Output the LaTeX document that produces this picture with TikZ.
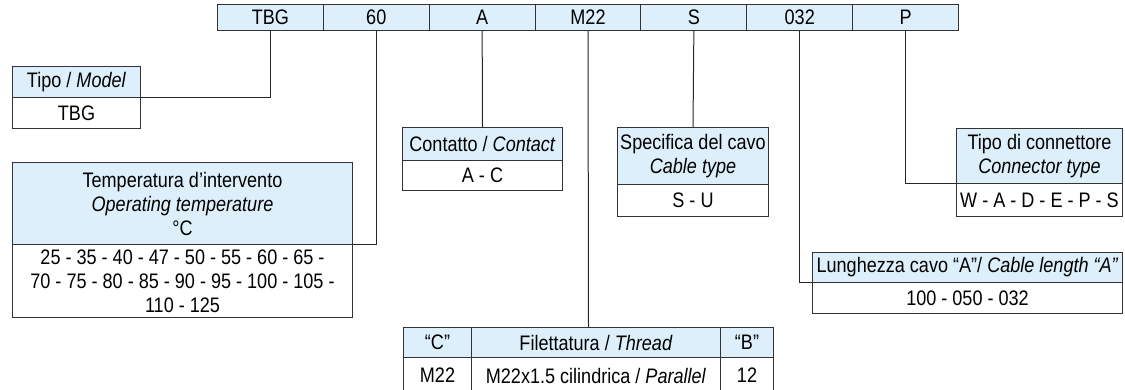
\documentclass[tikz,border=0pt]{standalone}
\usepackage{fontspec}
\setmainfont{Liberation Sans}[FakeStretch=0.86]
\usetikzlibrary{calc}
\definecolor{hdrfill}{HTML}{DDEFFA}
\definecolor{bordercol}{HTML}{333333}
\tikzset{
  cellbox/.style={draw=bordercol, line width=1pt, inner sep=0pt, align=center, anchor=north west, font=\fontsize{21}{24}\selectfont},
  hdr/.style={cellbox, fill=hdrfill},
  bdy/.style={cellbox, fill=white},
  conn/.style={draw=black!85, line width=1pt},
}
\begin{document}
\begin{tikzpicture}[x=1pt,y=-1pt]
\useasboundingbox (0,0) rectangle (1125,389);
% top code bar
\foreach \t [count=\i from 0] in {TBG,60,A,M22,S,032,P}{
  \node[hdr, minimum width=105.86pt, minimum height=26pt] (c\i) at ({217+\i*105.86},4) {\t};
}
% Tipo / Model
\node[hdr, minimum width=128pt, minimum height=31pt] (tipoH) at (12,66) {Tipo / \textit{Model}};
\node[bdy, minimum width=128pt, minimum height=31pt] (tipoB) at (12,97) {TBG};
% Temperatura
\node[hdr, minimum width=340pt, minimum height=82pt] (tempH) at (12,162) {Temperatura d’intervento\\\textit{Operating temperature}\\°C};
\node[bdy, minimum width=340pt, minimum height=73pt] (tempB) at (12,244) {25 - 35 - 40 - 47 - 50 - 55 - 60 - 65 -\\70 - 75 - 80 - 85 - 90 - 95 - 100 - 105 -\\110 - 125};
% Contatto
\node[hdr, minimum width=160pt, minimum height=33pt] (contH) at (402,127) {Contatto / \textit{Contact}};
\node[bdy, minimum width=160pt, minimum height=30pt] (contB) at (402,160) {A - C};
% Specifica
\node[hdr, minimum width=151pt, minimum height=57pt] (specH) at (617,127) {Specifica del cavo\\\textit{Cable type}};
\node[bdy, minimum width=151pt, minimum height=32pt] (specB) at (617,184) {S - U};
% Connettore
\node[hdr, minimum width=166pt, minimum height=55pt] (connH) at (956,128) {Tipo di connettore\\\textit{Connector type}};
\node[bdy, minimum width=166pt, minimum height=33pt] (connB) at (956,183) {W - A - D - E - P - S};
% Lunghezza
\node[hdr, minimum width=310pt, minimum height=30pt] (lungH) at (812,252) {Lunghezza cavo “A”/ \textit{Cable length “A”}};
\node[bdy, minimum width=310pt, minimum height=31pt] (lungB) at (812,282) {100 - 050 - 032};
% Thread table
\node[hdr, minimum width=68pt, minimum height=30pt] (tcH) at (403,327) {“C”};
\node[hdr, minimum width=249pt, minimum height=30pt] (tfH) at (471,327) {Filettatura / \textit{Thread}};
\node[hdr, minimum width=53pt, minimum height=30pt] (tbH) at (720,327) {“B”};
\node[bdy, minimum width=68pt, minimum height=36pt] (tcB) at (403,357) {M22};
\node[bdy, minimum width=249pt, minimum height=36pt] (tfB) at (471,357) {M22x1.5 cilindrica / \textit{Parallel}};
\node[bdy, minimum width=53pt, minimum height=36pt] (tbB) at (720,357) {12};
\coordinate (tabtop) at ($(tcH.north west)!0.5!(tbH.north east)$);
% connectors
\draw[conn] (c0.south) |- (tipoB.north east);
\draw[conn] (c1.south) |- (tempB.north east);
\draw[conn] (c2.south) -- (contH.north);
\draw[conn] (c3.south) -- (tabtop);
\draw[conn] (c4.south) -- (specH.north);
\draw[conn] (c5.south) |- (lungB.north west);
\draw[conn] (c6.south) |- (connB.north west);
\end{tikzpicture}
\end{document}
